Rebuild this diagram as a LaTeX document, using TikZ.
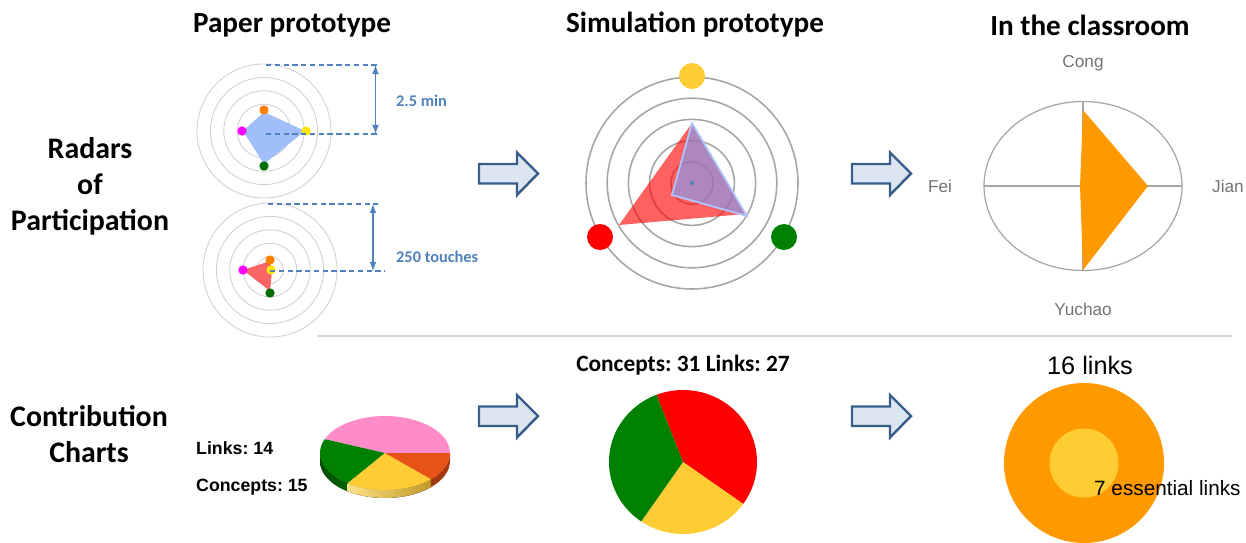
\documentclass[tikz,border=0pt]{standalone}
\usepackage{fontspec}
\setmainfont{Carlito}
\newfontfamily\arialfont{Liberation Sans}
\usetikzlibrary{calc,arrows}
\frenchspacing
\definecolor{annotblue}{RGB}{79,129,189}
\definecolor{arrowedge}{RGB}{56,93,138}
\definecolor{arrowfill}{RGB}{220,230,242}
\definecolor{dotorange}{RGB}{255,128,0}
\definecolor{dotmagenta}{RGB}{255,0,255}
\definecolor{dotyellow}{RGB}{255,230,0}
\definecolor{dotgreen}{RGB}{0,110,0}
\definecolor{paperblue}{RGB}{160,190,250}
\definecolor{paperred}{RGB}{250,85,85}
\definecolor{simyellow}{RGB}{255,204,51}
\definecolor{simgreen}{RGB}{0,128,0}
\definecolor{simblue}{RGB}{120,160,255}
\definecolor{classorange}{RGB}{255,153,0}
\definecolor{pinkslice}{RGB}{255,140,200}
\definecolor{orangeslice}{RGB}{232,82,22}
\def\ringgap{13.4}
\def\simgap{21.2}

\begin{document}
\begin{tikzpicture}[x=0.02cm,y=-0.02cm,>=latex]
    \tikzstyle{heading}=[font=\fontsize{16.6}{20}\selectfont\bfseries]
    \tikzstyle{rowlabel}=[font=\fontsize{17}{20.5}\selectfont\bfseries, align=center]
    \tikzstyle{annot}=[font=\fontsize{9.3}{11}\selectfont\bfseries, text=annotblue, anchor=west]
    \tikzstyle{measure}=[draw=annotblue, line width=0.8pt]
    \tikzstyle{guide}=[measure, dash pattern=on 3pt off 2pt]
    \tikzstyle{ring}=[draw=black!18, line width=0.5pt]
    \tikzstyle{simring}=[draw=black!35, line width=0.9pt]
    \tikzstyle{marker}=[circle, inner sep=0pt, minimum size=5.3pt]
    \tikzstyle{bigmarker}=[circle, inner sep=0pt, minimum size=14.8pt]
    \tikzstyle{person}=[font=\arialfont\fontsize{9.8}{11}\selectfont, text=black!55]
    \tikzstyle{tally}=[font=\arialfont\fontsize{10.1}{12}\selectfont\bfseries, anchor=west]
    \tikzstyle{stagearrow}=[draw=arrowedge, fill=arrowfill, line width=1.4pt, line join=miter]

    \useasboundingbox (0,0) rectangle (1246,542);

    % Column and row titles
    \node[heading] (T-1) at (292,25) {Paper prototype};
    \node[heading] (T-2) at (695,25) {Simulation prototype};
    \node[heading] (T-3) at (1090,25) {In the classroom};
    \node[rowlabel] (L-1) at (90,186) {Radars\\of\\Participation};
    \node[rowlabel] (L-2) at (89,434) {Contribution\\Charts};

    % Stage arrows
    \foreach \x / \y in {479/173.5, 852/173.5, 479/416, 852/416}
        \draw[stagearrow] (\x,\y-9.5) -- ++(38,0) -- ++(0,-11.5) -- ++(21,21)
            -- ++(-21,21.5) -- ++(0,-11.5) -- ++(-38,0) -- cycle;

    % Paper prototype radars
    \coordinate (P-1) at (264,131);
    \coordinate (P-2) at (270,270);
    \foreach \c in {1,2}
        \foreach \r in {1,...,5}
            \draw[ring] (P-\c) circle[radius=\r*\ringgap];
    \fill[paperblue] (264,112) -- (305,131) -- (264,164) -- (243,131) -- cycle;
    \fill[paperred, opacity=0.9] (270,261) -- (272,271) -- (270,291) -- (243,270) -- cycle;
    \foreach \c / \dx / \dy / \col in {1/0/-21/dotorange, 1/-22/0/dotmagenta, 1/42/0/dotyellow, 1/0/35/dotgreen,
                                      2/0/-10/dotorange, 2/-27/0/dotmagenta, 2/1/0/dotyellow, 2/0/23/dotgreen}
        \node[marker, fill=\col] (D-\c-\col) at ($(P-\c)+(\dx,\dy)$) {};

    % Scale marks of the paper radars
    \coordinate (G-1a) at (266,65);   \coordinate (G-1b) at (378,65);
    \coordinate (G-1c) at (266,134);  \coordinate (G-1d) at (378,134);
    \coordinate (G-2a) at (268,204);  \coordinate (G-2b) at (378,204);
    \coordinate (G-2c) at (270,271);  \coordinate (G-2d) at (385,271);
    \draw[guide] (G-1a) -- (G-1b);
    \draw[guide] (G-1c) -- (G-1d);
    \draw[guide] (G-2a) -- (G-2b);
    \draw[guide] (G-2c) -- (G-2d);
    \coordinate (A-1a) at (375.5,65);  \coordinate (A-1b) at (375.5,134);
    \coordinate (A-2a) at (373,204);   \coordinate (A-2b) at (373,271);
    \draw[measure, <->] (A-1a) -- (A-1b);
    \draw[measure, <->] (A-2a) -- (A-2b);
    \node[annot] (S-1) at (390,101) {2.5 min};
    \node[annot] (S-2) at (390,257) {250 touches};

    % Simulation prototype radar
    \coordinate (Q) at (692,183);
    \foreach \r in {1,...,5}
        \draw[simring] (Q) circle[radius=\r*\simgap];
    \fill[red, opacity=0.62] (692,123) -- (745,214) -- (619,225) -- cycle;
    \filldraw[fill=simblue, draw=simblue!60, line width=1pt, fill opacity=0.6]
        (692,123) -- (747,216) -- (672,195) -- cycle;
    \fill[annotblue] (Q) circle[radius=2];
    \node[bigmarker, fill=simyellow] (B-1) at (692,76) {};
    \node[bigmarker, fill=red] (B-2) at (600,237) {};
    \node[bigmarker, fill=simgreen] (B-3) at (784,237) {};

    % Classroom radar
    \coordinate (C) at (1083,186);
    \draw[ring, draw=black!35, line width=0.7pt] (C) ellipse[x radius=99, y radius=84.5];
    \draw[ring, draw=black!35, line width=0.7pt] (984,186) -- (1182,186);
    \draw[ring, draw=black!35, line width=0.7pt] (1083,101.5) -- (1083,270.5);
    \fill[classorange] (1083,110) -- (1148,186) -- (1083,270) -- (1080,186) -- cycle;
    \node[person] (N-1) at (1083,63) {Cong};
    \node[person] (N-2) at (940,186) {Fei};
    \node[person] (N-3) at (1228,186) {Jian};
    \node[person] (N-4) at (1083,309) {Yuchao};

    % Separator
    \coordinate (sep-a) at (317,336);
    \coordinate (sep-b) at (1232,336);
    \draw[black!16, line width=1.6pt] (sep-a) -- (sep-b);

    % Paper contribution chart (3D pie)
    \coordinate (E) at (385,453);
    \fill[left color=dotgreen!70!black, right color=simgreen] (E) ++(125:65 and 37)
        arc[start angle=125, end angle=180, x radius=65, y radius=37] -- ++(0,8)
        arc[start angle=180, end angle=125, x radius=65, y radius=37] -- cycle;
    \fill[left color=simyellow!60!white, right color=simyellow!75!black] (E) ++(45:65 and 37)
        arc[start angle=45, end angle=125, x radius=65, y radius=37] -- ++(0,8)
        arc[start angle=125, end angle=45, x radius=65, y radius=37] -- cycle;
    \fill[orangeslice!70!black] (E) ++(0:65 and 37)
        arc[start angle=0, end angle=45, x radius=65, y radius=37] -- ++(0,8)
        arc[start angle=45, end angle=0, x radius=65, y radius=37] -- cycle;
    \foreach \a / \b / \col in {202/360/pinkslice, 125/202/simgreen, 45/125/simyellow, 0/45/orangeslice}
        \fill[\col] (E) -- ++(\a:65 and 37)
            arc[start angle=\a, end angle=\b, x radius=65, y radius=37] -- cycle;
    \node[tally] (K-1) at (190,448) {Links: 14};
    \node[tally] (K-2) at (190,487) {Concepts: 15};

    % Simulation contribution chart
    \coordinate (F) at (683,462);
    \foreach \a / \b / \col in {249/395.6/red, 35.6/124.4/simyellow, 124.4/249/simgreen}
        \fill[\col] (F) -- ++(\a:74 and 72)
            arc[start angle=\a, end angle=\b, x radius=74, y radius=72] -- cycle;
    \node[heading, font=\fontsize{13.3}{16}\selectfont\bfseries] (K-3) at (683,365) {Concepts: 31 Links: 27};

    % Classroom contribution chart
    \coordinate (H) at (1084,463);
    \fill[classorange] (H) circle[radius=80];
    \fill[simyellow] (H) circle[radius=34.5];
    \node[font=\arialfont\fontsize{14.4}{17}\selectfont] (K-4) at (1090,365) {16 links};
    \node[font=\arialfont\fontsize{11.8}{14}\selectfont, anchor=west] (K-5) at (1088,488) {7 essential links};
\end{tikzpicture}
\end{document}
